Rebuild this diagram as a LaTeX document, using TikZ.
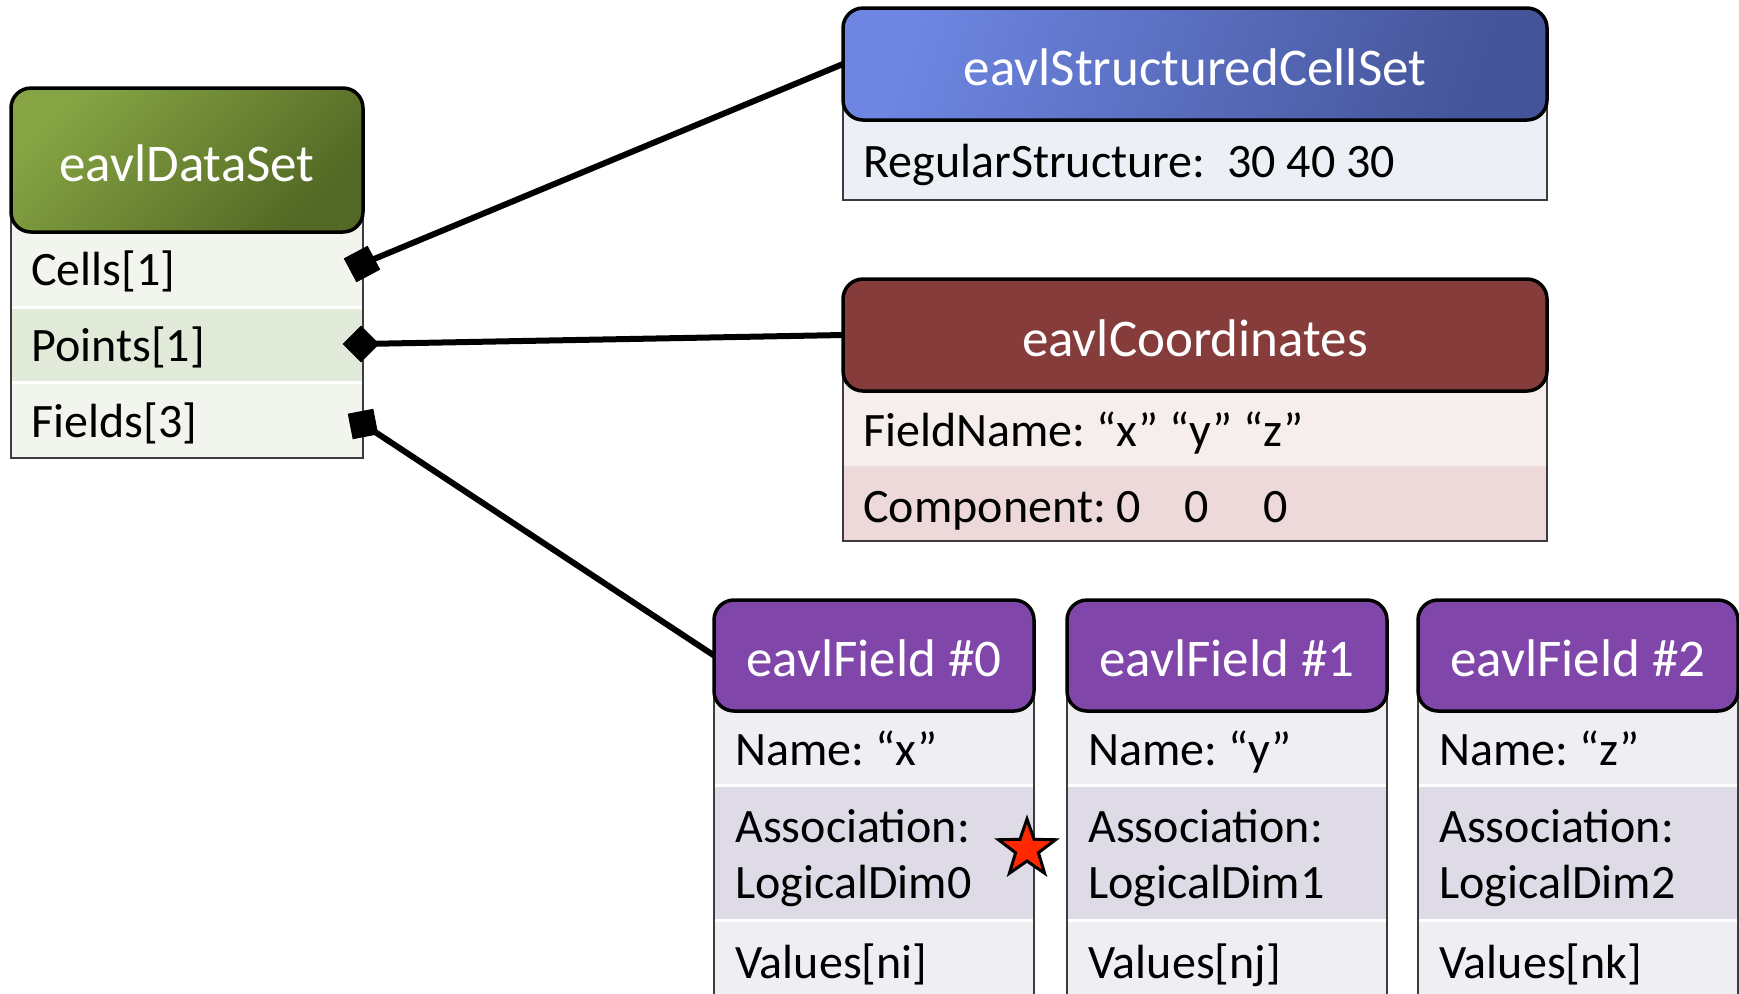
\documentclass[tikz,border=0pt]{standalone}
\usepackage{fontspec}
\setmainfont{Carlito}
\usetikzlibrary{shapes.geometric}
\frenchspacing

\definecolor{dsTop}{RGB}{134,164,67}
\definecolor{dsBot}{RGB}{82,104,36}
\definecolor{dsRowA}{RGB}{242,245,237}
\definecolor{dsRowB}{RGB}{226,234,217}
\definecolor{csLeft}{RGB}{110,134,226}
\definecolor{csRight}{RGB}{68,84,152}
\definecolor{csRow}{RGB}{236,239,245}
\definecolor{coHead}{RGB}{135,60,60}
\definecolor{coRowA}{RGB}{246,237,237}
\definecolor{coRowB}{RGB}{237,217,218}
\definecolor{fdHead}{RGB}{128,70,170}
\definecolor{fdRowA}{RGB}{239,238,243}
\definecolor{fdRowB}{RGB}{222,219,230}
\definecolor{frameGray}{RGB}{60,60,60}
\definecolor{starRed}{RGB}{255,40,0}

\begin{document}
\begin{tikzpicture}[x=0.5pt,y=-0.5pt,
  head/.style={draw=black, line width=1.75pt, rounded corners=10pt,
    inner sep=0pt, outer sep=0pt, anchor=north west, text=white,
    text height=21pt, text depth=0pt,
    font=\fontsize{26.5}{30}\selectfont},
  fieldhead/.style={head, fill=fdHead, minimum width=160pt, minimum height=55.5pt},
  label/.style={anchor=base west, inner sep=0pt, font=\fontsize{24}{28}\selectfont},
  bodyframe/.style={draw=frameGray, line width=1pt},
  rowgap/.style={draw=white, line width=1.5pt},
  link/.style={draw=black, line width=3pt},
  joint/.style={fill=black, rectangle, inner sep=0pt, minimum size=13pt},
]
\useasboundingbox (0,0) rectangle (1739,993);
\clip (0,0) rectangle (1739,993);
\fill[white] (0,0) rectangle (1739,993);

% ---- eavlDataSet ----
\fill[dsRowA] (11,160) rectangle (363,307);
\fill[dsRowB] (11,307) rectangle (363,382);
\fill[dsRowA] (11,382) rectangle (363,458);
\draw[rowgap] (12,307) -- (362,307);
\draw[rowgap] (12,382) -- (362,382);
\draw[bodyframe] (11,160) -- (11,458) -- (363,458) -- (363,160);
\node[head, top color=dsTop, bottom color=dsBot, shading angle=45,
  minimum width=176pt, minimum height=72pt] (ds) at (11,88) {eavlDataSet};
\node[label] (cells) at (31,285) {Cells[1]};
\node[label] (points) at (31,361) {Points[1]};
\node[label] (fields) at (31,437) {Fields[3]};

% ---- eavlStructuredCellSet ----
\fill[csRow] (843,64) rectangle (1547,200);
\draw[bodyframe] (843,64) -- (843,200) -- (1547,200) -- (1547,64);
\node[head, top color=csLeft, bottom color=csRight, shading angle=72,
  minimum width=352pt, minimum height=56pt] (cs) at (843,8) {eavlStructuredCellSet};
\node[label] (regular) at (863,177) {RegularStructure:\ \ 30 40 30};

% ---- eavlCoordinates ----
\fill[coRowA] (843,335) rectangle (1547,466);
\fill[coRowB] (843,466) rectangle (1547,541);
\draw[bodyframe] (843,335) -- (843,541) -- (1547,541) -- (1547,335);
\node[head, fill=coHead, minimum width=352pt, minimum height=56pt] (co) at (843,279) {eavlCoordinates};
\node[label] (fieldname) at (863,446) {FieldName: “x” “y” “z”};
\node[label] (component) at (863,522) {Component: 0\hspace*{21.5pt}0\hspace*{27.5pt}0};

% ---- eavlField #0..#2 ----
\foreach \i/\x/\nm/\val in {0/714/x/ni,1/1067/y/nj,2/1418/z/nk}{
  \fill[fdRowA] (\x,655) rectangle ++(320,130);
  \fill[fdRowB] (\x,785) rectangle ++(320,135);
  \fill[fdRowA] (\x,920) rectangle ++(320,90);
  \draw[rowgap] (\x+1,785) -- ++(318,0);
  \draw[rowgap] (\x+1,920) -- ++(318,0);
  \draw[bodyframe] (\x,655) -- (\x,1000) (\x+320,655) -- (\x+320,1000);
  \node[fieldhead] (f\i) at (\x,600) {eavlField \#\i};
  \node[label] (fname\i) at (\x+21,765) {Name: “\nm”};
  \node[label] (fassoc\i) at (\x+21,842) {Association:};
  \node[label] (fdim\i) at (\x+21,898) {LogicalDim\i};
  \node[label] (fval\i) at (\x+21,978) {Values[\val]};
}

% ---- composition joints and links ----
\node[joint, rotate=28, minimum size=13.5pt] (jcells) at (362,264) {};
\node[joint, rotate=45] (jpoints) at (361,344) {};
\node[joint, rotate=11] (jfields) at (363,424) {};
\draw[link] (jcells.center) -- (cs.west);
\draw[link] (jpoints.center) -- (co.west);
\draw[link] (jfields.center) -- (f0.west);

% ---- marker star ----
\node[star, star points=5, star point ratio=2.5, minimum size=30pt,
  fill=starRed, draw=black, line width=1.5pt, inner sep=0pt] (mark) at (1027,849) {};
\end{tikzpicture}
\end{document}
